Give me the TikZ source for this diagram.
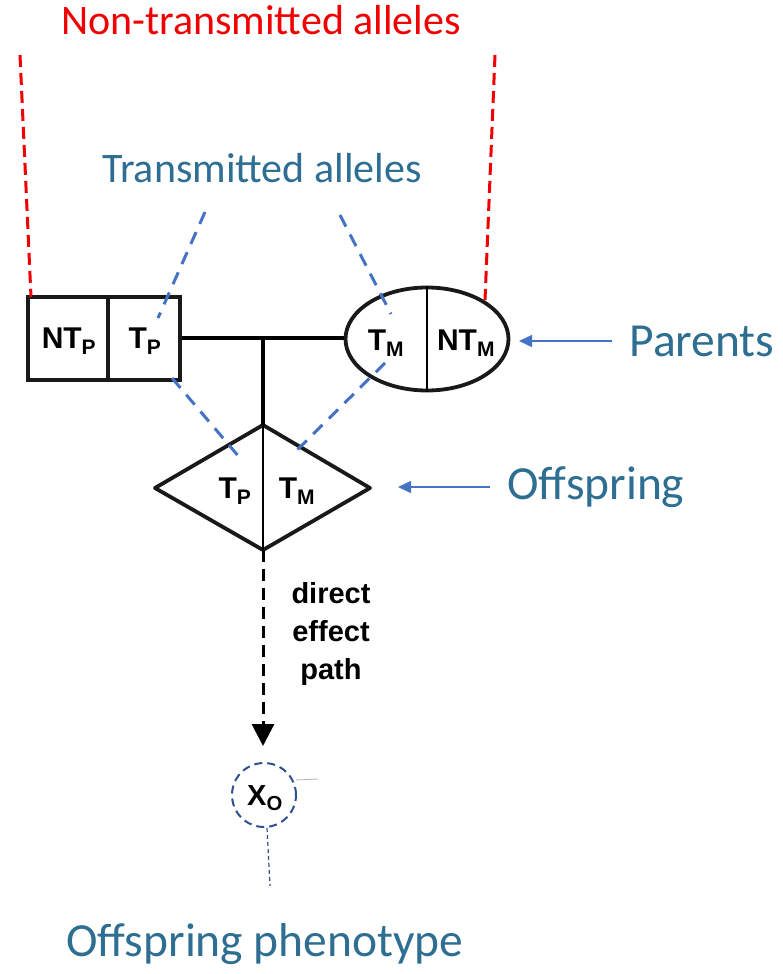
\documentclass[tikz,border=0pt]{standalone}
\usepackage{fontspec}
\setmainfont{Carlito}
\newfontfamily\arialb{Liberation Sans}
\usetikzlibrary{arrows.meta,shapes.geometric}
\definecolor{txtblue}{HTML}{2E6E92}
\definecolor{lnblue}{HTML}{4472C4}
\definecolor{redl}{HTML}{F00000}
\definecolor{circblue}{HTML}{2F4F8F}
\tikzset{
  big/.style={font=\fontsize{42}{48}\selectfont},
  bigger/.style={font=\fontsize{47.5}{54}\selectfont},
  lbl/.style={font=\arialb\bfseries\fontsize{30}{34}\selectfont, inner sep=0pt},
  shp/.style={draw=black!90, line width=3.8pt},
  reddash/.style={draw=redl, line width=3pt, dash pattern=on 12pt off 6pt},
  bluedash/.style={draw=lnblue, line width=3pt, dash pattern=on 13pt off 9pt},
  pointer/.style={draw=lnblue, line width=1.4pt, -{Triangle[length=13pt,width=12pt]}},
}
\begin{document}
\begin{tikzpicture}[x=1pt,y=-1pt]
\useasboundingbox (0,0) rectangle (782,974);
% titles
\node[big, text=redl] (nt) at (261,20) {Non-transmitted alleles};
\node[big, text=txtblue] (tr) at (262,168) {Transmitted alleles};
\node[bigger, text=txtblue, anchor=west] (par) at (626,341) {Parents};
\node[bigger, text=txtblue, anchor=west] (off) at (504,487) {Offspring};
\node[bigger, text=txtblue] (ph) at (265,944) {Offspring phenotype};
% father box
\node[shp, minimum width=80pt, minimum height=83pt, inner sep=0pt] (ntp) at (68,338.5) {};
\node[shp, minimum width=72pt, minimum height=83pt, inner sep=0pt] (tp) at (144,338.5) {};
\node[lbl] at (69,341) {NT\textsubscript{P}};
\node[lbl] at (145,341) {T\textsubscript{P}};
% mother ellipse
\node[shp, ellipse, minimum width=163pt, minimum height=103pt, inner sep=0pt] (mom) at (427,339) {};
\draw[line width=2.8pt] (mom.north) -- (mom.south);
\node[lbl] at (386,343) {T\textsubscript{M}};
\node[lbl] at (466,343) {NT\textsubscript{M}};
% marriage line
\coordinate (mid) at (263,338);
\draw[line width=3.2pt] (tp.east |- mid) -- (mom.west |- mid);
% offspring diamond
\coordinate (dt) at (263,425);
\coordinate (db) at (263,550);
\coordinate (dl) at (155,488);
\coordinate (dr) at (370,488);
\draw[shp, line join=round] (dt) -- (dr) -- (db) -- (dl) -- cycle;
\draw[line width=2.8pt] (dt) -- (db);
\draw[line width=3.2pt] (mid) -- (dt);
\node[lbl] at (235,491) {T\textsubscript{P}};
\node[lbl] at (297,491) {T\textsubscript{M}};
% direct effect path
\node[font=\arialb\bfseries\fontsize{29}{38}\selectfont, align=center, inner sep=0pt] (dep) at (331,634) {direct\\effect\\path};
\coordinate (arr) at (263,746);
\draw[line width=3pt, dash pattern=on 12pt off 7pt, -{Triangle[length=22pt,width=22pt]}] (db) -- (arr);
% offspring phenotype circle
\node[circle, draw=circblue, line width=2pt, dash pattern=on 8pt off 5pt, minimum size=64pt, inner sep=0pt] (xo) at (264,795) {};
\node[lbl, font=\arialb\bfseries\fontsize{29}{32}\selectfont] at (265,798) {X\textsubscript{O}};
\draw[gray!60, line width=0.8pt] (296,780) -- (318,779);
\coordinate (phtop) at (270,886);
\draw[circblue, line width=1.2pt, dash pattern=on 4pt off 3pt] (xo.south) ++(3,0) -- (phtop);
% red dashed lines
\coordinate (r1) at (20,55);
\coordinate (r2) at (495,55);
\draw[reddash] (r1) -- (31,297);
\draw[reddash] (r2) -- (485,300);
% blue dashed lines
\coordinate (b1) at (205,212);
\coordinate (b2) at (340,215);
\draw[bluedash] (b1) -- (158,318);
\draw[bluedash] (b2) -- (391,314);
\draw[bluedash] (172,378) -- (240,458);
\draw[bluedash] (385,363) -- (292,455);
% pointers
\coordinate (pa) at (612,341);
\coordinate (oa) at (490,487);
\draw[pointer] (pa) -- (519,341);
\draw[pointer] (oa) -- (398,487);
\end{tikzpicture}
\end{document}
